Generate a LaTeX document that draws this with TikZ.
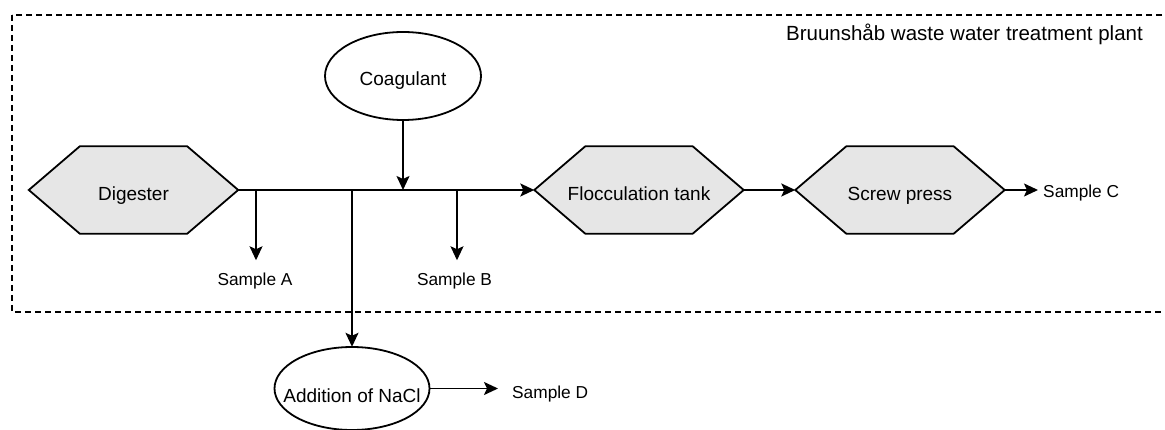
\documentclass[tikz,border=0pt]{standalone}
\usepackage{fontspec}
\setmainfont{Liberation Sans}
\usetikzlibrary{arrows.meta,backgrounds}
\definecolor{hexgray}{HTML}{E6E6E6}
\tikzset{
  lw/.style={line width=1.8pt},
  arr/.style={line width=1.8pt, -{Stealth[length=14pt,width=13pt,inset=3pt]}},
  hexbox/.style={rectangle, minimum width=209pt, minimum height=87pt, inner sep=0pt,
    font=\fontsize{19}{22}\selectfont, text height=22pt, text depth=0pt},
  hexshape/.style={draw, line width=1.8pt, fill=hexgray, line join=miter},
  ovalbox/.style={rectangle, inner sep=0pt, font=\fontsize{19}{22}\selectfont, text depth=0pt},
  ovalline/.style={draw, line width=1.8pt, fill=white},
  sample/.style={font=\fontsize{17.3}{20}\selectfont, inner sep=0pt},
  plant/.style={draw, line width=1.8pt, dash pattern=on 6pt off 4pt},
  titletext/.style={font=\fontsize{20.5}{24}\selectfont, inner sep=0pt}
}
\newcommand{\hexof}[1]{\draw[hexshape] (#1.west) -- ([xshift=51pt]#1.north west) -- ([xshift=-51pt]#1.north east) -- (#1.east) -- ([xshift=-51pt]#1.south east) -- ([xshift=51pt]#1.south west) -- cycle;}
\newcommand{\ovalof}[3]{\draw[ovalline] (#1.center) ellipse [x radius=#2, y radius=#3];}
\begin{document}
\begin{tikzpicture}[x=1pt,y=-1pt]
\useasboundingbox (0,0) rectangle (1165,430);
\clip (0,0) rectangle (1165,430);

% plant boundary (right side runs off the picture)
\draw[plant] (12,15) rectangle (1200,312);
\node[titletext, anchor=base east] (title) at (1143,41) {Bruunshåb waste water treatment plant};

% process units
\node[hexbox] (dig) at (133.5,190) {Digester};
\node[hexbox] (flocc) at (639,190) {Flocculation tank};
\node[hexbox] (screw) at (900,190) {Screw press};
\node[ovalbox, minimum width=156pt, minimum height=88pt, text height=20pt] (coag) at (403,76) {Coagulant};
\node[ovalbox, minimum width=155pt, minimum height=83pt, text height=27pt] (nacl) at (352,388.5) {Addition of NaCl};

\begin{scope}[on background layer]
  \hexof{dig}
  \hexof{flocc}
  \hexof{screw}
  \ovalof{coag}{78pt}{44pt}
  \ovalof{nacl}{77.5pt}{41.5pt}
\end{scope}

% sample labels
\node[sample, anchor=base] (sA) at (255,286) {Sample A};
\node[sample, anchor=base] (sB) at (454.5,286) {Sample B};
\node[sample, anchor=base west] (sC) at (1043,198) {Sample C};
\node[sample, anchor=base west] (sD) at (512,399) {Sample D};

% junctions on main line
\coordinate (jA) at (256,190);
\coordinate (jN) at (352,190);
\coordinate (jC) at (403,190);
\coordinate (jB) at (457,190);

% connectors
\draw[arr] (dig.east) -- (flocc.west);
\draw[arr] (flocc.east) -- (screw.west);
\draw[arr, shorten >=5pt] (screw.east) -- (screw.east -| sC.west);
\draw[arr] (coag.south) -- (jC);
\draw[arr, shorten >=13pt] (jA) -- (jA |- sA.north);
\draw[arr, shorten >=13pt] (jB) -- (jB |- sB.north);
\draw[arr] (jN) -- (nacl.north);
\draw[arr, shorten >=14pt] (nacl.east) -- (nacl.east -| sD.west);
\end{tikzpicture}
\end{document}
